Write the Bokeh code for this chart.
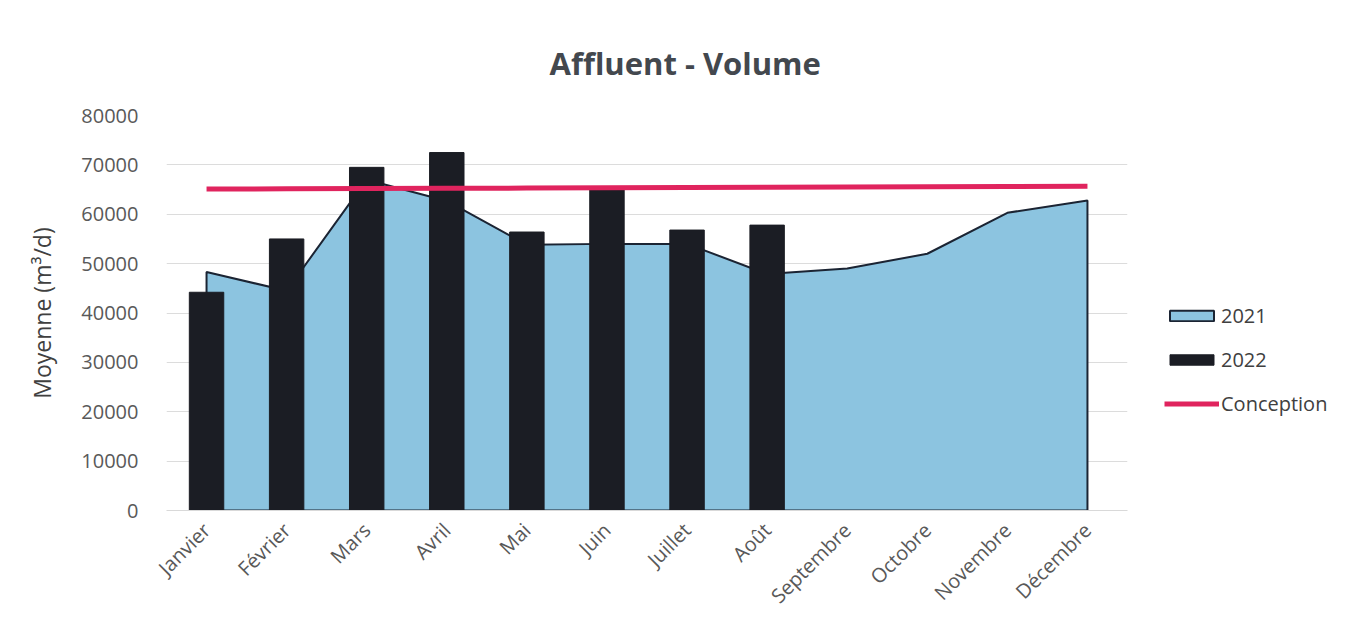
from bokeh.plotting import figure
from bokeh.models import Legend, LegendItem, FactorRange, Range1d, SingleIntervalTicker, Title
from bokeh.embed import file_html
from bokeh.resources import INLINE
import math

months = ["Janvier", "Février", "Mars", "Avril", "Mai", "Juin", "Juillet", "Août",
          "Septembre", "Octobre", "Novembre", "Décembre"]
v2021 = [48300, 44500, 67000, 62700, 53800, 54000, 54000, 47900, 49000, 52000, 60300, 62800]
months_2022 = ["Janvier", "Février", "Mars", "Avril", "Mai", "Juin", "Juillet", "Août"]
v2022 = [44200, 55000, 69500, 72500, 56400, 65000, 56800, 57800]
conception = [65100, 65150, 65200, 65250, 65300, 65350, 65400, 65450, 65500, 65550, 65600, 65650]

FONT = "Open Sans"

p = figure(frame_width=961, frame_height=395, x_range=FactorRange(*months), y_range=Range1d(0, 80000),
           output_backend="svg", toolbar_location=None,
           min_border_left=166, min_border_right=209, min_border_top=115, min_border_bottom=102)

t = Title(text="Affluent - Volume", align="left", offset=383, text_font=FONT, text_font_size="31px",
          text_color="#43484e", text_font_style="bold", standoff=63)
p.add_layout(t, "above")

xs = months + months[::-1]
ys = v2021 + [0] * len(months)
r21 = p.patch(x=xs, y=ys, fill_color="#8cc4e0", line_color="#1b2433", line_width=2)
r22 = p.vbar(x=months_2022, top=v2022, width=0.43, fill_color="#1b1d24", line_color="#1b1d24")
rc = p.line(x=months, y=conception, line_color="#e0245e", line_width=5)

legend = Legend(items=[LegendItem(label="2021", renderers=[r21]),
                       LegendItem(label="2022", renderers=[r22]),
                       LegendItem(label="Conception", renderers=[rc])],
                location=(37, 93), border_line_color=None, background_fill_alpha=0,
                label_text_font=FONT, label_text_font_size="20px", label_text_color="#404040",
                glyph_width=55, glyph_height=13, spacing=17, label_standoff=2, padding=0, margin=0)
p.add_layout(legend, "right")

p.yaxis.ticker = SingleIntervalTicker(interval=10000)
p.yaxis.axis_label = "Moyenne (m³/d)"
p.yaxis.axis_label_text_font = FONT
p.yaxis.axis_label_text_font_size = "23px"
p.yaxis.axis_label_text_font_style = "normal"
p.yaxis.axis_label_text_color = "#404040"
p.yaxis.axis_label_standoff = 20
p.yaxis.axis_line_color = None
p.yaxis.major_tick_line_color = None
p.yaxis.minor_tick_line_color = None
p.yaxis.major_label_standoff = 22

p.xaxis.axis_line_color = "#d9d9d9"
p.xaxis.major_tick_line_color = None
p.xaxis.major_label_orientation = math.pi / 4

for ax in (p.xaxis, p.yaxis):
    ax.major_label_text_font = FONT
    ax.major_label_text_font_size = "20px"
    ax.major_label_text_color = "#595959"

p.xaxis.major_label_standoff = 10

p.xgrid.grid_line_color = None
p.ygrid.grid_line_color = "#dcdcdc"
p.ygrid.grid_line_width = 1
p.outline_line_color = None

open("out.html", "w").write(file_html(p, INLINE))
